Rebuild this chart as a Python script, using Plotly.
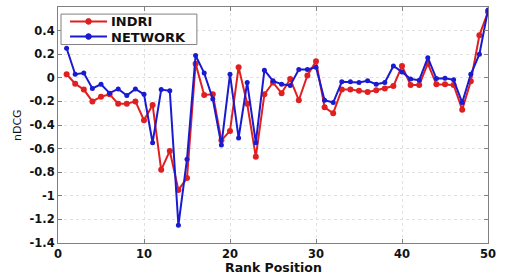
import plotly.graph_objects as go

rank = list(range(1, 51))
indri = [0.03, -0.05, -0.10, -0.20, -0.16, -0.14, -0.22, -0.22, -0.20, -0.36,
         -0.23, -0.78, -0.62, -0.95, -0.85, 0.12, -0.145, -0.14, -0.53, -0.45,
         0.09, -0.22, -0.67, -0.14, -0.04, -0.13, -0.01, -0.19, 0.02, 0.14,
         -0.25, -0.30, -0.10, -0.10, -0.11, -0.12, -0.105, -0.09, -0.07, 0.10,
         -0.06, -0.06, 0.12, -0.055, -0.055, -0.06, -0.27, -0.03, 0.36, 0.56]
network = [0.25, 0.03, 0.04, -0.09, -0.055, -0.13, -0.094, -0.15, -0.094, -0.14,
           -0.55, -0.10, -0.11, -1.25, -0.69, 0.19, 0.04, -0.18, -0.57, 0.03,
           -0.51, -0.04, -0.55, 0.065, -0.026, -0.055, -0.065, 0.07, 0.07, 0.09,
           -0.19, -0.21, -0.034, -0.034, -0.04, -0.026, -0.054, -0.04, 0.10, 0.05,
           -0.01, -0.02, 0.17, -0.006, -0.003, -0.017, -0.21, 0.03, 0.20, 0.575]
series_names = ["INDRI", "NETWORK"]
series_colors = ["#e02020", "#1a1ad0"]
x_ticks = [0, 10, 20, 30, 40, 50]
y_ticks = [-1.4, -1.2, -1.0, -0.8, -0.6, -0.4, -0.2, 0, 0.2, 0.4]
y_tick_labels = ["-1.4", "-1.2", "-1", "-0.8", "-0.6", "-0.4", "-0.2", "0", "0.2", "0.4"]

FONT = "DejaVu Sans"

fig = go.Figure()
for name, vals, col, msize in zip(series_names, [indri, network], series_colors, [6, 5]):
    fig.add_trace(go.Scatter(x=rank, y=vals, name=name, mode="lines+markers",
                             line=dict(color=col, width=2),
                             marker=dict(color=col, size=msize, symbol="circle")))

axis_common = dict(showline=True, linecolor="#808080", linewidth=1, mirror="ticks",
                   ticks="inside", ticklen=4, tickcolor="#808080",
                   showgrid=True, gridcolor="#e0e0e0", griddash="dot", gridwidth=1,
                   zeroline=False,
                   tickfont=dict(family=FONT, size=11.5, color="#111111", weight="bold"))

# Compact legend box drawn in paper coordinates (MATLAB-style)
shapes = [dict(type="rect", xref="paper", yref="paper", x0=0.007, x1=0.323,
               y0=0.841, y1=0.970, line=dict(color="#808080", width=1),
               fillcolor="white", layer="above")]
annotations = []
legend_rows = [0.939, 0.875]
for name, col, yy in zip(series_names, series_colors, legend_rows):
    shapes.append(dict(type="line", xref="paper", yref="paper", x0=0.028, x1=0.114,
                       y0=yy, y1=yy, line=dict(color=col, width=2), layer="above"))
    shapes.append(dict(type="circle", xref="paper", yref="paper",
                       x0=0.071 - 0.0065, x1=0.071 + 0.0065,
                       y0=yy - 0.012, y1=yy + 0.012,
                       line=dict(color=col, width=1), fillcolor=col, layer="above"))
    annotations.append(dict(text=name, xref="paper", yref="paper", x=0.122, y=yy,
                            xanchor="left", yanchor="middle", showarrow=False,
                            height=14, borderpad=0,
                            font=dict(family=FONT, size=13, color="#111111", weight="bold")))

annotations.append(dict(text="Rank Position", xref="paper", yref="paper", x=0.5, y=0,
                        xanchor="center", yanchor="middle", yshift=-24, showarrow=False,
                        font=dict(family=FONT, size=12.5, color="#111111", weight="bold")))
annotations.append(dict(text="nDCG", xref="paper", yref="paper", x=0, y=0.5,
                        xanchor="center", yanchor="middle", xshift=-41, textangle=-90,
                        showarrow=False,
                        font=dict(family=FONT, size=11, color="#111111")))

fig.update_layout(
    width=510, height=277,
    margin=dict(l=58, r=22, t=7, b=34),
    paper_bgcolor="white", plot_bgcolor="white",
    font=dict(family=FONT, color="#111111"),
    showlegend=False,
    shapes=shapes,
    annotations=annotations,
    xaxis=dict(range=[0, 50], tickvals=x_ticks, **axis_common),
    yaxis=dict(range=[-1.4, 0.6], tickvals=y_ticks, ticktext=y_tick_labels, **axis_common),
)

fig.write_html("out.html",
               config={"displayModeBar": False},
               post_script="document.body.style.margin='0';document.body.style.overflow='hidden';")
